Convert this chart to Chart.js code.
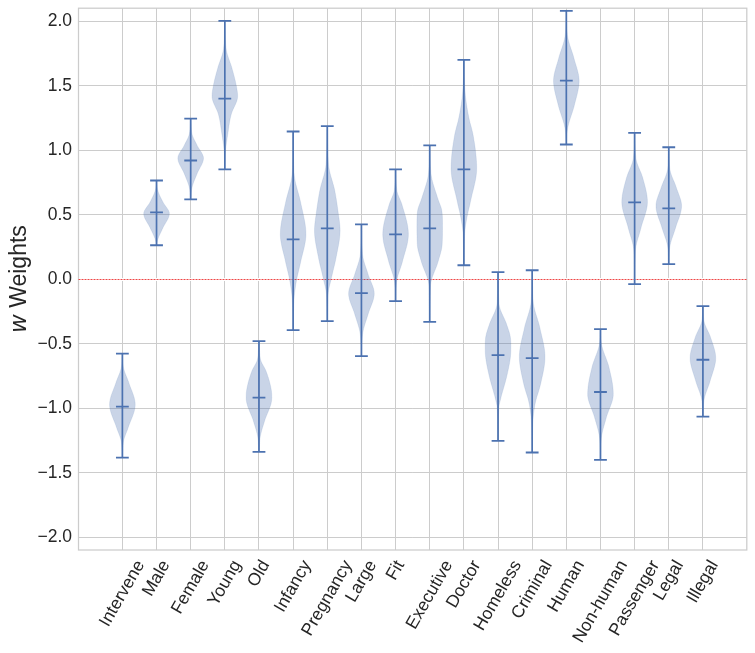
<!DOCTYPE html>
<html><head><meta charset="utf-8">
<script src="https://cdn.jsdelivr.net/npm/chart.js@4.4.0/dist/chart.umd.min.js"></script>
<style>html,body{margin:0;padding:0;background:#fff}#wrap{width:755px;height:653px;position:relative}</style>
</head><body><div id="wrap"><canvas id="c"></canvas></div>
<script>
const categories = ['Intervene','Male','Female','Young','Old','Infancy','Pregnancy','Large','Fit','Executive','Doctor','Homeless','Criminal','Human','Non-human','Passenger','Legal','Illegal'];
const positions = [1,2,3,4,5,6,7,8,9,10,11,12,13,14,15,16,17,18];
const medians = [-0.986, 0.52, 0.922, 1.402, -0.917, 0.311, 0.396, -0.107, 0.35, 0.396, 0.853, -0.587, -0.61, 1.541, -0.873, 0.597, 0.551, -0.623];
const minima  = [-1.381, 0.265, 0.62, 0.853, -1.337, -0.393, -0.324, -0.594, -0.169, -0.329, 0.11, -1.252, -1.342, 1.046, -1.399, -0.037, 0.118, -1.064];
const maxima  = [-0.576, 0.767, 1.247, 2.005, -0.478, 1.147, 1.188, 0.427, 0.853, 1.04, 1.703, 0.056, 0.071, 2.083, -0.385, 1.136, 1.025, -0.207];
// violin outline: [value, relative half-width]
const violinShapes = [
  [[-1.381,0.02],[-1.26,0.08],[-1.15,0.45],[-0.97,1],[-0.80,0.5],[-0.68,0.08],[-0.576,0.02]],
  [[0.265,0.02],[0.31,0.1],[0.40,0.5],[0.51,1],[0.60,0.5],[0.69,0.1],[0.767,0.02]],
  [[0.62,0.02],[0.71,0.1],[0.82,0.5],[0.94,1],[1.04,0.5],[1.13,0.1],[1.247,0.02]],
  [[0.853,0.02],[1.0,0.06],[1.12,0.22],[1.28,0.5],[1.42,1],[1.51,0.88],[1.64,0.55],[1.79,0.1],[2.005,0.02]],
  [[-1.337,0.02],[-1.22,0.1],[-1.10,0.43],[-0.92,1],[-0.85,0.95],[-0.71,0.55],[-0.62,0.12],[-0.478,0.02]],
  [[-0.393,0.02],[-0.17,0.06],[-0.01,0.26],[0.14,0.6],[0.35,1],[0.6,0.58],[0.785,0.12],[0.95,0.03],[1.147,0.02]],
  [[-0.324,0.02],[-0.12,0.06],[0.01,0.32],[0.17,0.69],[0.38,1],[0.52,0.85],[0.69,0.58],[0.89,0.1],[1.188,0.02]],
  [[-0.594,0.02],[-0.42,0.1],[-0.27,0.52],[-0.11,1],[0.04,0.52],[0.2,0.08],[0.427,0.02]],
  [[-0.169,0.02],[-0.02,0.08],[0.14,0.54],[0.35,1],[0.58,0.5],[0.69,0.1],[0.853,0.02]],
  [[-0.329,0.02],[-0.05,0.06],[0.14,0.66],[0.27,0.97],[0.42,1],[0.53,0.95],[0.63,0.62],[0.82,0.1],[1.04,0.02]],
  [[0.11,0.02],[0.35,0.06],[0.48,0.24],[0.61,0.53],[0.86,1],[1.12,0.72],[1.25,0.4],[1.4,0.15],[1.55,0.04],[1.703,0.02]],
  [[-1.252,0.02],[-1.0,0.06],[-0.92,0.22],[-0.76,0.66],[-0.60,0.97],[-0.52,1],[-0.44,0.95],[-0.345,0.66],[-0.19,0.08],[0.056,0.02]],
  [[-1.342,0.02],[-1.12,0.05],[-0.96,0.24],[-0.81,0.66],[-0.6,1],[-0.375,0.6],[-0.17,0.08],[0.071,0.02]],
  [[1.046,0.02],[1.17,0.1],[1.355,0.64],[1.54,1],[1.714,0.6],[1.9,0.08],[2.083,0.02]],
  [[-1.399,0.02],[-1.24,0.06],[-1.07,0.46],[-0.89,1],[-0.68,0.66],[-0.5,0.08],[-0.385,0.02]],
  [[-0.037,0.02],[0.22,0.06],[0.4,0.5],[0.6,1],[0.786,0.64],[0.94,0.1],[1.136,0.02]],
  [[0.118,0.02],[0.25,0.08],[0.4,0.53],[0.57,1],[0.71,0.6],[0.86,0.08],[1.025,0.02]],
  [[-1.064,0.02],[-0.94,0.08],[-0.785,0.57],[-0.61,1],[-0.45,0.6],[-0.32,0.08],[-0.207,0.02]]
];
const yTickValues = [-2,-1.5,-1,-0.5,0,0.5,1,1.5,2];
const yTickLabels = ['\u22122.0','\u22121.5','\u22121.0','\u22120.5','0.0','0.5','1.0','1.5','2.0'];
const referenceLine = 0;
const yLabelItalic = 'w';
const yLabelRest = ' Weights';

const BLUE = '#4c72b0';
const BODY = 'rgba(76,114,176,0.3)';
const BODY_HALF = 0.375;   // in x-axis units
const CAP_PX = 6.4;
const TEXT = '#262626';
const FONT = '"Liberation Sans", Arial, sans-serif';

// monotone cubic (Fritsch-Carlson) for smooth outline rendering
function profileSampler(knots){
  const xs = knots.map(k=>k[0]), ys = knots.map(k=>k[1]), n = xs.length;
  const d = [], m = new Array(n);
  for (let i=0;i<n-1;i++) d.push((ys[i+1]-ys[i])/(xs[i+1]-xs[i]));
  m[0]=d[0]; m[n-1]=d[n-2];
  for (let i=1;i<n-1;i++) m[i] = (d[i-1]*d[i] <= 0) ? 0 : (d[i-1]+d[i])/2;
  for (let i=0;i<n-1;i++){
    if (d[i]===0){ m[i]=0; m[i+1]=0; continue; }
    const a=m[i]/d[i], b=m[i+1]/d[i], s=a*a+b*b;
    if (s>9){ const t=3/Math.sqrt(s); m[i]=t*a*d[i]; m[i+1]=t*b*d[i]; }
  }
  return function(v){
    let i=0; while(i<n-2 && v>xs[i+1]) i++;
    const h=xs[i+1]-xs[i], t=(v-xs[i])/h, t2=t*t, t3=t2*t;
    return (2*t3-3*t2+1)*ys[i]+(t3-2*t2+t)*h*m[i]+(-2*t3+3*t2)*ys[i+1]+(t3-t2)*h*m[i+1];
  };
}

const violinPlugin = {
  id:'violins',
  beforeDatasetsDraw(chart){
    const {ctx, chartArea:a, scales:{x,y}} = chart;
    ctx.save();
    ctx.strokeStyle='#cccccc'; ctx.lineWidth=1.25;
    ctx.strokeRect(a.left, a.top, a.right-a.left, a.bottom-a.top);
    const yz = Math.round(y.getPixelForValue(referenceLine)) + 0.5;
    ctx.fillStyle='#ffffff'; ctx.fillRect(a.left+1, yz-1.5, a.right-a.left-2, 3);
    // dotted reference line drawn as short red segments
    ctx.fillStyle='rgb(238,70,70)';
    for (let px = a.left; px < a.right; px += 3) ctx.fillRect(px, yz-0.5, 2, 1);
    violinShapes.forEach((knots,i)=>{
      const f = profileSampler(knots), pos = positions[i];
      const lo = knots[0][0], hi = knots[knots.length-1][0], N = 160;
      const pts = [];
      for (let k=0;k<=N;k++){ const v = lo+(hi-lo)*k/N; pts.push([v, Math.max(0,f(v))]); }
      ctx.beginPath();
      pts.forEach(([v,w],k)=>{ const px=x.getPixelForValue(pos+w*BODY_HALF), py=y.getPixelForValue(v); k?ctx.lineTo(px,py):ctx.moveTo(px,py); });
      for (let k=pts.length-1;k>=0;k--){ const [v,w]=pts[k]; ctx.lineTo(x.getPixelForValue(pos-w*BODY_HALF), y.getPixelForValue(v)); }
      ctx.closePath();
      ctx.fillStyle=BODY; ctx.fill();
      ctx.strokeStyle='rgba(76,114,176,0.12)'; ctx.lineWidth=1; ctx.stroke();
    });
    ctx.strokeStyle=BLUE; ctx.lineWidth=1.7;
    positions.forEach((p,i)=>{
      const px = x.getPixelForValue(p);
      ctx.beginPath(); ctx.moveTo(px, y.getPixelForValue(minima[i])); ctx.lineTo(px, y.getPixelForValue(maxima[i])); ctx.stroke();
    });
    ctx.restore();
  },
  afterDraw(chart){
    const {ctx, chartArea:a, scales:{x}} = chart;
    ctx.save();
    ctx.fillStyle=TEXT;
    ctx.font = '17.5px '+FONT;
    const ang = Math.PI/3, fs = 17.5, h = fs*1.15;
    categories.forEach((lab,i)=>{
      const L = ctx.measureText(lab).width;
      const H = L*Math.sin(ang) + h*Math.cos(ang);
      const cx = x.getPixelForValue(positions[i]), cy = a.bottom + 7 + H/2;
      ctx.save(); ctx.translate(cx, cy); ctx.rotate(-ang);
      ctx.textAlign='center'; ctx.textBaseline='middle';
      ctx.fillText(lab, 0, 0); ctx.restore();
    });
    // y-axis title
    const fI = 'italic 23px "DejaVu Sans", sans-serif', fR = '23px '+FONT;
    ctx.font=fI; const w1 = ctx.measureText(yLabelItalic).width;
    ctx.font=fR; const w2 = ctx.measureText(yLabelRest).width;
    ctx.translate(26, (a.top+a.bottom)/2); ctx.rotate(-Math.PI/2);
    ctx.textAlign='left'; ctx.textBaseline='alphabetic';
    const start = -(w1+w2)/2;
    ctx.font=fI; ctx.fillText(yLabelItalic, start, 0);
    ctx.font=fR; ctx.fillText(yLabelRest, start+w1, 0);
    ctx.restore();
  }
};

const capDataset = (vals, label) => ({
  type:'scatter', label,
  data: positions.map((p,i)=>({x:p, y:vals[i]})),
  pointStyle:'line', pointRadius:CAP_PX, pointHoverRadius:CAP_PX,
  borderColor:BLUE, backgroundColor:BLUE, borderWidth:1.8
});

new Chart(document.getElementById('c'), {
  type:'scatter',
  data:{ datasets:[ capDataset(maxima,'max'), capDataset(minima,'min'), capDataset(medians,'median') ] },
  options:{
    responsive:true, maintainAspectRatio:false, animation:false, events:[],
    layout:{ padding:{ top:6, right:7, left:0, bottom:0 } },
    plugins:{ legend:{display:false}, tooltip:{enabled:false} },
    scales:{
      x:{ type:'linear', min:-0.285, max:19.285,
          afterBuildTicks(s){ s.ticks = positions.map(v=>({value:v})); },
          afterFit(s){ s.height = 103; s.paddingLeft = 0; s.paddingRight = 0; },
          ticks:{ display:false },
          grid:{ color:'#cccccc', lineWidth:1, drawTicks:false },
          border:{ display:false } },
      y:{ type:'linear', min:-2.098, max:2.103,
          afterBuildTicks(s){ s.ticks = yTickValues.map(v=>({value:v})); },
          afterFit(s){ s.width = 78.5; s.paddingTop = 0; s.paddingBottom = 0; },
          ticks:{ padding:6.5, color:TEXT, font:{ family:FONT, size:17.5 },
                  callback:(v,i)=>yTickLabels[i] },
          grid:{ color:'#cccccc', lineWidth:1, drawTicks:false },
          border:{ display:false } }
    }
  },
  plugins:[violinPlugin]
});
</script></body></html>
